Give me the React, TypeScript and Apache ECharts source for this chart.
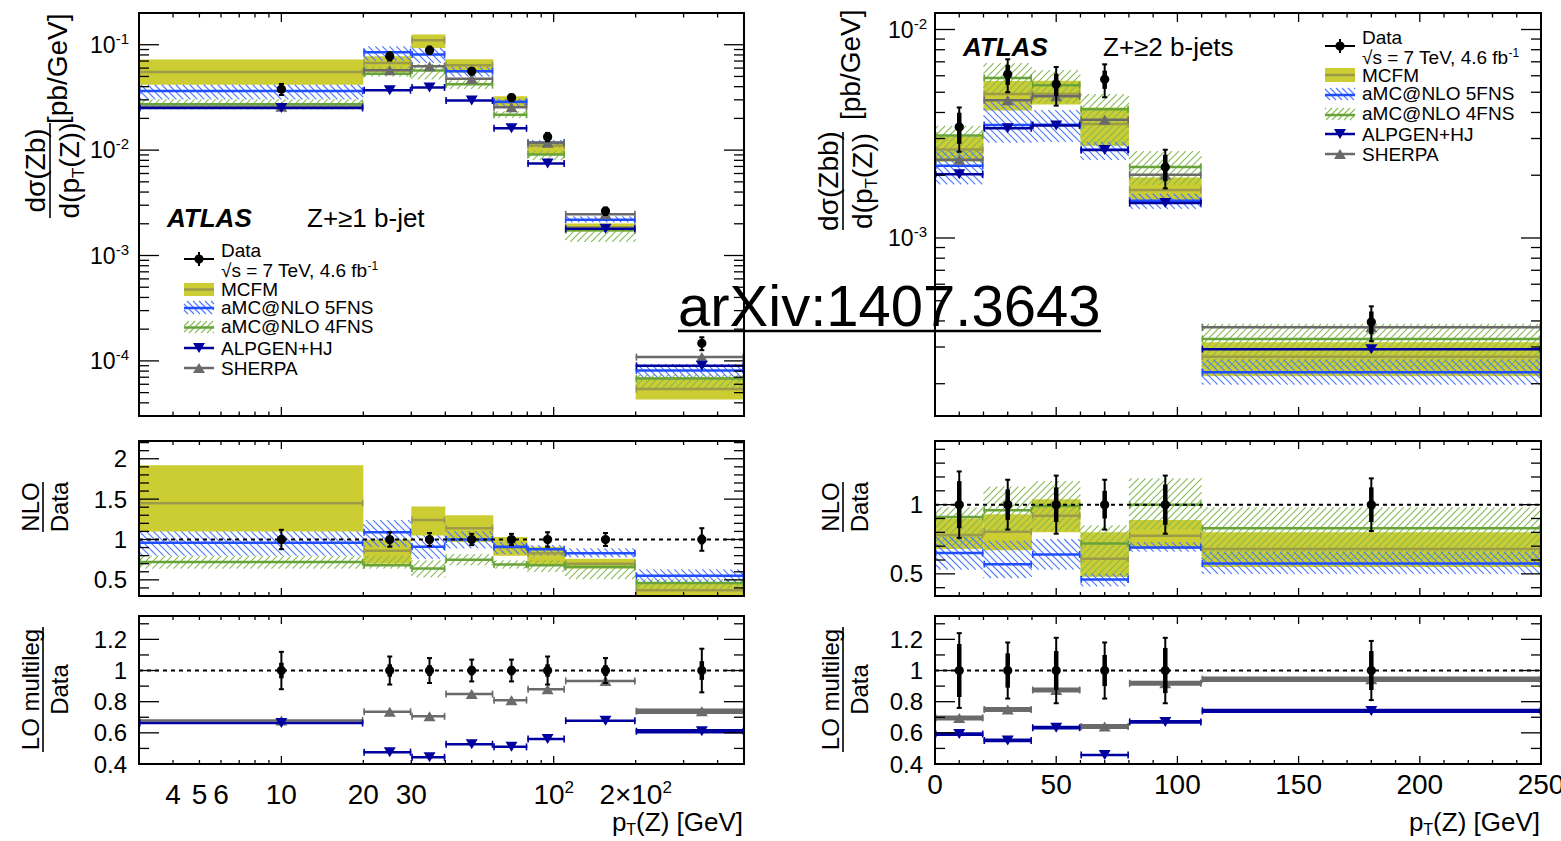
import React, { useEffect, useRef } from "react";
import * as echarts from "echarts";

const FONT = '"Liberation Sans", Arial, Helvetica, sans-serif';

// ---------- binning ----------
const LEFT_EDGES = [0, 20, 30, 40, 60, 80, 110, 200, 500];
const LEFT_CENTERS = [10, 25, 35, 50, 70, 95, 155, 350];
const RIGHT_EDGES = [0, 20, 40, 60, 80, 110, 250];
const RIGHT_CENTERS = [10, 30, 50, 70, 95, 180];

// ---------- axis ranges ----------
const LEFT_X_RANGE = [3, 500];
const RIGHT_X_RANGE = [0, 250];
const TL_Y_RANGE = [3e-5, 0.2];
const TR_Y_RANGE = [1.4e-4, 0.012];
const ML_Y_RANGE = [0.3, 2.22];
const MR_Y_RANGE = [0.34, 1.46];
const BOT_Y_RANGE = [0.4, 1.35];

// ---------- tick labels ----------
const LEFT_X_LABELS: [number, string][] = [[4, "4"], [5, "5"], [6, "6"], [10, "10"], [20, "20"], [30, "30"], [100, "10{s|2}"], [200, "2×10{s|2}"]];
const RIGHT_X_LABELS: [number, string][] = [[0, "0"], [50, "50"], [100, "100"], [150, "150"], [200, "200"], [250, "250"]];
const TL_Y_LABELS: [number, string][] = [[1e-4, "10{s|-4}"], [1e-3, "10{s|-3}"], [1e-2, "10{s|-2}"], [1e-1, "10{s|-1}"]];
const TR_Y_LABELS: [number, string][] = [[1e-3, "10{s|-3}"], [1e-2, "10{s|-2}"]];
const ML_Y_LABELS: [number, string][] = [[0.5, "0.5"], [1, "1"], [1.5, "1.5"], [2, "2"]];
const MR_Y_LABELS: [number, string][] = [[0.5, "0.5"], [1, "1"]];
const BOT_Y_LABELS: [number, string][] = [[0.4, "0.4"], [0.6, "0.6"], [0.8, "0.8"], [1, "1"], [1.2, "1.2"]];
const LEFT_X_MAJOR = [10, 100];
const LEFT_X_MINOR = [4, 5, 6, 7, 8, 9, 20, 30, 40, 50, 60, 70, 80, 90, 200, 300, 400];

// ---------- Z + >=1 b-jet : cross sections [pb/GeV] ----------
const B1_DATA = [0.0379, 0.0778, 0.0887, 0.0561, 0.0315, 0.01336, 0.00264, 0.000147];
const B1_ERR_TOT = [0.12, 0.09, 0.08, 0.07, 0.07, 0.09, 0.08, 0.14];
const B1_ERR_STAT = [0.05, 0.04, 0.035, 0.03, 0.03, 0.04, 0.035, 0.06];
const B1_MCFM = [0.055, 0.0669, 0.11, 0.064, 0.0284, 0.01109, 0.00185, 0.000054];
const B1_MCFM_LO = [0.0417, 0.0545, 0.0931, 0.0544, 0.0252, 0.00908, 0.00169, 0.000043];
const B1_MCFM_HI = [0.0724, 0.0778, 0.125, 0.0729, 0.0324, 0.01216, 0.00201, 0.00007];
const B1_5FNS = [0.0364, 0.0848, 0.0807, 0.0561, 0.0287, 0.01176, 0.00219, 0.000081];
const B1_5FNS_LO = [0.0303, 0.0708, 0.0674, 0.0499, 0.0258, 0.01069, 0.00206, 0.000069];
const B1_5FNS_HI = [0.0417, 0.0965, 0.0931, 0.0617, 0.0306, 0.01242, 0.00235, 0.000093];
const B1_4FNS = [0.0273, 0.0529, 0.0568, 0.0421, 0.0217, 0.00908, 0.00174, 0.000068];
const B1_4FNS_LO = [0.0243, 0.0498, 0.047, 0.0381, 0.0202, 0.00802, 0.00135, 0.000054];
const B1_4FNS_HI = [0.0303, 0.0622, 0.0656, 0.046, 0.0233, 0.00989, 0.00185, 0.000075];
const B1_ALPGEN = [0.0251, 0.037, 0.0393, 0.0296, 0.0161, 0.00748, 0.00179, 0.0000897];
const B1_SHERPA = [0.0258, 0.0572, 0.0626, 0.0476, 0.0255, 0.01176, 0.00246, 0.0001086];

// ratios to data
const R1_MCFM = [1.45, 0.86, 1.24, 1.14, 0.9, 0.83, 0.7, 0.37];
const R1_MCFM_LO = [1.1, 0.7, 1.05, 0.97, 0.8, 0.68, 0.64, 0.25];
const R1_MCFM_HI = [1.92, 1.0, 1.41, 1.3, 1.03, 0.91, 0.76, 0.45];
const R1_5FNS = [0.96, 1.09, 0.91, 1.0, 0.91, 0.88, 0.83, 0.55];
const R1_5FNS_LO = [0.8, 0.91, 0.76, 0.89, 0.82, 0.8, 0.78, 0.47];
const R1_5FNS_HI = [1.1, 1.24, 1.05, 1.1, 0.97, 0.93, 0.89, 0.63];
const R1_4FNS = [0.72, 0.68, 0.64, 0.75, 0.69, 0.68, 0.66, 0.46];
const R1_4FNS_LO = [0.64, 0.64, 0.53, 0.68, 0.64, 0.6, 0.51, 0.37];
const R1_4FNS_HI = [0.8, 0.8, 0.74, 0.82, 0.74, 0.74, 0.7, 0.51];
const R1_ALPGEN = [0.663, 0.476, 0.443, 0.527, 0.51, 0.56, 0.678, 0.61];
const R1_SHERPA = [0.68, 0.735, 0.706, 0.849, 0.81, 0.88, 0.933, 0.739];
const R1_ALPGEN_ERR = [0, 0, 0, 0, 0, 0, 0, 0.015];
const R1_SHERPA_ERR = [0, 0, 0, 0, 0, 0, 0, 0.018];

// ---------- Z + >=2 b-jets : cross sections [pb/GeV] ----------
const B2_DATA = [0.00341, 0.0061, 0.00546, 0.00577, 0.00219, 0.000395];
const B2_ERR_TOT = [0.24, 0.18, 0.21, 0.18, 0.21, 0.19];
const B2_ERR_STAT = [0.17, 0.11, 0.125, 0.1, 0.145, 0.125];
const B2_MCFM = [0.00266, 0.00491, 0.00491, 0.00352, 0.0017, 0.000269];
const B2_MCFM_LO = [0.00232, 0.00409, 0.00437, 0.00277, 0.00149, 0.000217];
const B2_MCFM_HI = [0.00307, 0.00567, 0.00568, 0.00423, 0.00195, 0.000316];
const B2_5FNS = [0.00222, 0.00348, 0.00349, 0.00265, 0.00151, 0.000227];
const B2_5FNS_LO = [0.00181, 0.00287, 0.00289, 0.00237, 0.00138, 0.000198];
const B2_5FNS_HI = [0.00263, 0.00451, 0.0041, 0.00289, 0.00163, 0.000261];
const B2_4FNS = [0.0031, 0.00586, 0.00541, 0.00415, 0.00219, 0.000328];
const B2_4FNS_LO = [0.00239, 0.00494, 0.00442, 0.00277, 0.0018, 0.000237];
const B2_4FNS_HI = [0.00345, 0.00689, 0.00639, 0.0049, 0.00261, 0.000387];
const B2_ALPGEN = [0.00202, 0.00336, 0.00346, 0.00264, 0.00147, 0.000293];
const B2_SHERPA = [0.00237, 0.00458, 0.00478, 0.00369, 0.00201, 0.000373];

const R2_MCFM = [0.78, 0.805, 0.92, 0.61, 0.776, 0.68];
const R2_MCFM_LO = [0.68, 0.67, 0.8, 0.48, 0.68, 0.55];
const R2_MCFM_HI = [0.9, 0.93, 1.04, 0.8, 0.89, 0.8];
const R2_5FNS = [0.65, 0.57, 0.64, 0.46, 0.69, 0.574];
const R2_5FNS_LO = [0.53, 0.47, 0.53, 0.41, 0.66, 0.5];
const R2_5FNS_HI = [0.77, 0.74, 0.75, 0.5, 0.73, 0.66];
const R2_4FNS = [0.91, 0.96, 0.99, 0.72, 1.0, 0.83];
const R2_4FNS_LO = [0.7, 0.81, 0.81, 0.48, 0.82, 0.6];
const R2_4FNS_HI = [0.98, 1.13, 1.17, 0.85, 1.19, 0.98];
const R2_ALPGEN = [0.592, 0.551, 0.633, 0.458, 0.67, 0.741];
const R2_SHERPA = [0.696, 0.75, 0.875, 0.64, 0.918, 0.944];
const R2_ALPGEN_ERR = [0.012, 0.012, 0.012, 0.008, 0.012, 0.014];
const R2_SHERPA_ERR = [0.016, 0.016, 0.016, 0.016, 0.016, 0.018];

// ---------- colours ----------
const C_MCFM_FILL = "#cccc33";
const C_MCFM_LINE = "#9b9b4a";
const C_5FNS_LINE = "#1f4dff";
const C_5FNS_HATCH = "#4a78ff";
const C_4FNS_LINE = "#68a33a";
const C_4FNS_HATCH = "#86bb55";
const C_ALPGEN = "#00009e";
const C_SHERPA = "#6a6a6a";

const GRIDS = [
  { left: 139, top: 13, width: 605, height: 403 },
  { left: 139, top: 441, width: 605, height: 155 },
  { left: 139, top: 616, width: 605, height: 148 },
  { left: 935, top: 13, width: 606, height: 403 },
  { left: 935, top: 441, width: 606, height: 155 },
  { left: 935, top: 616, width: 606, height: 148 },
];

// ---------- helpers ----------
function hatchLines(x0: number, y0: number, x1: number, y1: number, dir: string, color: string, sp = 7, lw = 1.1) {
  const out: any[] = [];
  if (dir === "/") {
    const start = Math.ceil((x0 + y0) / sp) * sp;
    for (let c = start; c <= x1 + y1; c += sp) {
      const xa = Math.max(x0, c - y1);
      const xb = Math.min(x1, c - y0);
      if (xb - xa > 0.4) out.push({ type: "line", shape: { x1: xa, y1: c - xa, x2: xb, y2: c - xb }, style: { stroke: color, lineWidth: lw } });
    }
  } else {
    const start = Math.ceil((y0 - x1) / sp) * sp;
    for (let c = start; c <= y1 - x0; c += sp) {
      const xa = Math.max(x0, y0 - c);
      const xb = Math.min(x1, y1 - c);
      if (xb - xa > 0.4) out.push({ type: "line", shape: { x1: xa, y1: xa + c, x2: xb, y2: xb + c }, style: { stroke: color, lineWidth: lw } });
    }
  }
  return out;
}

function logMinors(min: number, max: number) {
  const out: number[] = [];
  for (let e = Math.floor(Math.log10(min)); e <= Math.ceil(Math.log10(max)); e++) {
    for (let k = 2; k <= 9; k++) {
      const v = k * Math.pow(10, e);
      if (v > min * 1.0001 && v < max * 0.9999) out.push(v);
    }
  }
  return out;
}
function logMajors(min: number, max: number) {
  const out: number[] = [];
  for (let e = Math.floor(Math.log10(min)); e <= Math.ceil(Math.log10(max)); e++) {
    const v = Math.pow(10, e);
    if (v >= min && v <= max) out.push(v);
  }
  return out;
}
function linTicks(min: number, max: number, step: number, skip: number | null) {
  const out: number[] = [];
  const n0 = Math.ceil(min / step - 1e-6);
  const n1 = Math.floor(max / step + 1e-6);
  for (let n = n0; n <= n1; n++) {
    const v = +(n * step).toFixed(6);
    if (skip !== null && Math.abs(v / skip - Math.round(v / skip)) < 1e-6) continue;
    out.push(v);
  }
  return out;
}

const supRich = (size: number) => ({ s: { fontSize: size, fontFamily: FONT, fill: "#000", lineHeight: size, verticalAlign: "top" } });
const subRich = (size: number) => ({ sub: { fontSize: size, fontFamily: FONT, fill: "#000", lineHeight: size, verticalAlign: "bottom" } });

function bandSeries(gi: number, edges: number[], xMin: number, lo: number[], hi: number[], fill: string | null, hatchDir: string | null, hatchColor: string, z: number) {
  return {
    type: "custom", xAxisIndex: gi, yAxisIndex: gi, z, silent: true, clip: false,
    data: lo.map((l, i) => [Math.max(edges[i], xMin), edges[i + 1], l, hi[i]]),
    encode: { x: [0, 1], y: [2, 3] },
    renderItem: (params: any, api: any) => {
      const cs = params.coordSys;
      const p = api.coord([api.value(0), api.value(3)]);
      const q = api.coord([api.value(1), api.value(2)]);
      const x0 = Math.max(Math.min(p[0], q[0]), cs.x);
      const x1 = Math.min(Math.max(p[0], q[0]), cs.x + cs.width);
      const y0 = Math.max(Math.min(p[1], q[1]), cs.y);
      const y1 = Math.min(Math.max(p[1], q[1]), cs.y + cs.height);
      const children: any[] = [];
      if (x1 > x0 && y1 > y0) {
        if (fill) children.push({ type: "rect", shape: { x: x0, y: y0, width: x1 - x0, height: y1 - y0 }, style: { fill } });
        if (hatchDir) children.push(...hatchLines(x0, y0, x1, y1, hatchDir, hatchColor));
      }
      return { type: "group", children };
    },
  };
}

function lineSeries(gi: number, edges: number[], xMin: number, vals: number[], color: string, lw: number, z: number) {
  return {
    type: "custom", xAxisIndex: gi, yAxisIndex: gi, z, silent: true, clip: false,
    data: vals.map((v, i) => [Math.max(edges[i], xMin), edges[i + 1], v]),
    encode: { x: [0, 1], y: 2 },
    renderItem: (params: any, api: any) => {
      const cs = params.coordSys;
      const p = api.coord([api.value(0), api.value(2)]);
      const q = api.coord([api.value(1), api.value(2)]);
      const y = p[1];
      const children: any[] = [];
      if (y >= cs.y - 1 && y <= cs.y + cs.height + 1) {
        const x0 = Math.max(p[0], cs.x);
        const x1 = Math.min(q[0], cs.x + cs.width);
        children.push({ type: "line", shape: { x1: x0, y1: y, x2: x1, y2: y }, style: { stroke: color, lineWidth: lw } });
        children.push({ type: "line", shape: { x1: x0 + 0.8, y1: y - 3.5, x2: x0 + 0.8, y2: y + 3.5 }, style: { stroke: color, lineWidth: 1.6 } });
        children.push({ type: "line", shape: { x1: x1 - 0.8, y1: y - 3.5, x2: x1 - 0.8, y2: y + 3.5 }, style: { stroke: color, lineWidth: 1.6 } });
      }
      return { type: "group", children };
    },
  };
}

function triangle(x: number, y: number, down: boolean, color: string) {
  const h = 5;
  const w = 6;
  const pts = down ? [[x - w, y - h], [x + w, y - h], [x, y + h]] : [[x - w, y + h], [x + w, y + h], [x, y - h]];
  return { type: "polygon", shape: { points: pts }, style: { fill: color } };
}

function mcSeries(gi: number, edges: number[], xMin: number, centers: number[], vals: number[], errs: number[] | null, color: string, down: boolean, lw: number, z: number) {
  return {
    type: "custom", xAxisIndex: gi, yAxisIndex: gi, z, silent: true, clip: false,
    data: vals.map((v, i) => [Math.max(edges[i], xMin), edges[i + 1], centers[i], v, errs ? errs[i] : 0]),
    encode: { x: [0, 1, 2], y: 3 },
    renderItem: (params: any, api: any) => {
      const cs = params.coordSys;
      const v = api.value(3);
      const e = api.value(4);
      const xc = api.value(2);
      const pl = api.coord([api.value(0), v]);
      const ph = api.coord([api.value(1), v]);
      const pc = api.coord([xc, v]);
      const x0 = Math.max(pl[0], cs.x);
      const x1 = Math.min(ph[0], cs.x + cs.width);
      let yT = pc[1] - lw / 2;
      let yB = pc[1] + lw / 2;
      if (e > 0) {
        const a = api.coord([xc, v + e])[1];
        const b = api.coord([xc, v - e])[1];
        if (b - a > lw) { yT = a; yB = b; }
      }
      const children: any[] = [
        { type: "rect", shape: { x: x0, y: yT, width: x1 - x0, height: yB - yT }, style: { fill: color } },
        { type: "line", shape: { x1: x0 + 0.8, y1: pc[1] - 3.5, x2: x0 + 0.8, y2: pc[1] + 3.5 }, style: { stroke: color, lineWidth: 1.6 } },
        { type: "line", shape: { x1: x1 - 0.8, y1: pc[1] - 3.5, x2: x1 - 0.8, y2: pc[1] + 3.5 }, style: { stroke: color, lineWidth: 1.6 } },
        triangle(pc[0], pc[1], down, color),
      ];
      return { type: "group", children };
    },
  };
}

function dataSeries(gi: number, centers: number[], vals: number[], totLo: number[], totHi: number[], statLo: number[], statHi: number[], z: number) {
  return {
    type: "custom", xAxisIndex: gi, yAxisIndex: gi, z, silent: true, clip: false,
    data: vals.map((v, i) => [centers[i], v, totLo[i], totHi[i], statLo[i], statHi[i]]),
    encode: { x: 0, y: [1, 2, 3] },
    renderItem: (params: any, api: any) => {
      const xc = api.value(0);
      const c = api.coord([xc, api.value(1)]);
      const tl = api.coord([xc, api.value(2)])[1];
      const th = api.coord([xc, api.value(3)])[1];
      const sl = api.coord([xc, api.value(4)])[1];
      const sh = api.coord([xc, api.value(5)])[1];
      const k = { stroke: "#000", lineWidth: 2 };
      return {
        type: "group",
        children: [
          { type: "line", shape: { x1: c[0], y1: tl, x2: c[0], y2: th }, style: k },
          { type: "line", shape: { x1: c[0] - 2.5, y1: tl, x2: c[0] + 2.5, y2: tl }, style: k },
          { type: "line", shape: { x1: c[0] - 2.5, y1: th, x2: c[0] + 2.5, y2: th }, style: k },
          { type: "line", shape: { x1: c[0], y1: sl, x2: c[0], y2: sh }, style: { stroke: "#000", lineWidth: 4.5 } },
          { type: "circle", shape: { cx: c[0], cy: c[1], r: 4.6 }, style: { fill: "#000" } },
        ],
      };
    },
  };
}

function unitLineSeries(gi: number, xRef: number, z: number) {
  return {
    type: "custom", xAxisIndex: gi, yAxisIndex: gi, z, silent: true, clip: false,
    data: [[xRef, 1]],
    encode: { x: 0, y: 1 },
    renderItem: (params: any, api: any) => {
      const cs = params.coordSys;
      const y = api.coord([api.value(0), api.value(1)])[1];
      return { type: "line", shape: { x1: cs.x, y1: y, x2: cs.x + cs.width, y2: y }, style: { stroke: "#000", lineWidth: 2, lineDash: [4, 4] } };
    },
  };
}

function axesSeries(gi: number, cfg: any) {
  return {
    type: "custom", xAxisIndex: gi, yAxisIndex: gi, z: 20, silent: true, clip: false,
    data: [[cfg.xRange[0], cfg.yRange[0]]],
    encode: { x: 0, y: 1 },
    renderItem: (params: any, api: any) => {
      const cs = params.coordSys;
      const L = cs.x, R = cs.x + cs.width, T = cs.y, B = cs.y + cs.height;
      const X = (v: number) => api.coord([v, cfg.yRange[0]])[0];
      const Y = (v: number) => api.coord([cfg.xRange[0], v])[1];
      const st = { stroke: "#000", lineWidth: 1.3 };
      const ch: any[] = [];
      const addX = (v: number, len: number) => {
        const x = X(v);
        ch.push({ type: "line", shape: { x1: x, y1: B, x2: x, y2: B - len }, style: st });
        ch.push({ type: "line", shape: { x1: x, y1: T, x2: x, y2: T + len }, style: st });
      };
      const addY = (v: number, len: number) => {
        const y = Y(v);
        ch.push({ type: "line", shape: { x1: L, y1: y, x2: L + len, y2: y }, style: st });
        ch.push({ type: "line", shape: { x1: R, y1: y, x2: R - len, y2: y }, style: st });
      };
      cfg.xMajor.forEach((v: number) => addX(v, cfg.xTick[0]));
      cfg.xMinor.forEach((v: number) => addX(v, cfg.xTick[1]));
      cfg.yMajor.forEach((v: number) => addY(v, cfg.yTick[0]));
      cfg.yMinor.forEach((v: number) => addY(v, cfg.yTick[1]));
      ch.push({ type: "rect", shape: { x: L, y: T, width: R - L, height: B - T }, style: { fill: "none", stroke: "#000", lineWidth: 2 } });
      (cfg.yLabels || []).forEach(([v, t]: [number, string]) => {
        ch.push({
          type: "text", x: L - cfg.yGap, y: Y(v),
          style: { text: t, fontSize: cfg.yLabelSize, fontFamily: FONT, fill: "#000", align: "right", textAlign: "right", verticalAlign: "middle", textVerticalAlign: "middle", lineHeight: Math.round(cfg.yLabelSize * 1.2), rich: supRich(Math.round(cfg.yLabelSize * 0.65)) },
        });
      });
      (cfg.xLabels || []).forEach(([v, t]: [number, string]) => {
        ch.push({
          type: "text", x: X(v), y: B + cfg.xLabelOffset,
          style: { text: t, fontSize: cfg.xLabelSize, fontFamily: FONT, fill: "#000", align: "center", textAlign: "center", verticalAlign: "middle", textVerticalAlign: "middle", lineHeight: Math.round(cfg.xLabelSize * 1.12), rich: supRich(Math.round(cfg.xLabelSize * 0.62)) },
        });
      });
      return { type: "group", children: ch };
    },
  };
}

// ---------- graphic helpers ----------
function txt(x: number, y: number, text: string, size: number, o: any = {}) {
  return {
    type: "text", x, y, z: 50, silent: true,
    style: {
      text, fontSize: size, fontFamily: o.family || FONT, fill: "#000",
      fontWeight: o.weight || "normal", fontStyle: o.italic ? "italic" : "normal",
      align: o.align || "left", textAlign: o.align || "left",
      verticalAlign: o.va || "middle", textVerticalAlign: o.va || "middle",
      lineHeight: o.lh, rich: o.rich,
    },
  };
}

function fracTitle(x: number, y: number, len: number, num: string, den: string, size: number, extra?: string, ex?: number, ey?: number) {
  const children: any[] = [
    { type: "line", shape: { x1: 0, y1: 0, x2: len, y2: 0 }, style: { stroke: "#000", lineWidth: 1.6 } },
    txt(len / 2, -1, num, size, { align: "center", va: "bottom" }),
    txt(len / 2, 1, den, size, { align: "center", va: "top", lh: Math.round(size * 1.3), rich: subRich(Math.round(size * 0.62)) }),
  ];
  if (extra) children.push(txt(ex as number, ey as number, extra, size, { align: "left", va: "middle" }));
  return { type: "group", x, y, rotation: Math.PI / 2, z: 50, silent: true, children };
}

function legend(sx: number, tx: number, y: any) {
  const mx = sx + 15;
  const F = 19;
  const LH = 18;
  const el: any[] = [];
  const ln = (x1: number, y1: number, x2: number, y2: number, c: string, w: number) => ({ type: "line", z: 40, shape: { x1, y1, x2, y2 }, style: { stroke: c, lineWidth: w } });
  // data
  el.push(ln(sx, y.data, sx + 30, y.data, "#000", 2));
  el.push(ln(mx, y.data - 7, mx, y.data + 7, "#000", 2));
  el.push({ type: "circle", z: 40, shape: { cx: mx, cy: y.data, r: 4.6 }, style: { fill: "#000" } });
  el.push(txt(tx, y.dataT1, "Data", F, { lh: LH }));
  el.push(txt(tx, y.dataT2, "√s = 7 TeV, 4.6 fb{s|-1}", F, { lh: 20, rich: supRich(12) }));
  // MCFM
  el.push({ type: "rect", z: 40, shape: { x: sx, y: y.mcfm[0], width: 30, height: y.mcfm[1] - y.mcfm[0] }, style: { fill: C_MCFM_FILL } });
  el.push(ln(sx, (y.mcfm[0] + y.mcfm[1]) / 2, sx + 30, (y.mcfm[0] + y.mcfm[1]) / 2, C_MCFM_LINE, 2.5));
  el.push(txt(tx, y.mcfmT, "MCFM", F, { lh: LH }));
  // 5FNS
  el.push({ type: "group", z: 40, children: hatchLines(sx, y.f5[0], sx + 30, y.f5[1], "\\", C_5FNS_HATCH, 6) });
  el.push(ln(sx, y.f5L, sx + 30, y.f5L, C_5FNS_LINE, 2.5));
  el.push(txt(tx, y.f5T, "aMC@NLO 5FNS", F, { lh: LH }));
  // 4FNS
  el.push({ type: "group", z: 40, children: hatchLines(sx, y.f4[0], sx + 30, y.f4[1], "/", C_4FNS_HATCH, 6) });
  el.push(ln(sx, y.f4L, sx + 30, y.f4L, C_4FNS_LINE, 2.5));
  el.push(txt(tx, y.f4T, "aMC@NLO 4FNS", F, { lh: LH }));
  // ALPGEN
  el.push(ln(sx, y.alp, sx + 30, y.alp, C_ALPGEN, 2.5));
  el.push({ ...triangle(mx, y.alp, true, C_ALPGEN), z: 41 });
  el.push(txt(tx, y.alp, "ALPGEN+HJ", F, { lh: LH }));
  // SHERPA
  el.push(ln(sx, y.sh, sx + 30, y.sh, C_SHERPA, 2.5));
  el.push({ ...triangle(mx, y.sh, false, C_SHERPA), z: 41 });
  el.push(txt(tx, y.sh, "SHERPA", F, { lh: LH }));
  return el;
}

function buildOption() {
  const leftXMin = LEFT_X_RANGE[0];
  const rightXMin = RIGHT_X_RANGE[0];

  const panelCfg = [
    { xRange: LEFT_X_RANGE, yRange: TL_Y_RANGE, xMajor: LEFT_X_MAJOR, xMinor: LEFT_X_MINOR, yMajor: logMajors(TL_Y_RANGE[0], TL_Y_RANGE[1]), yMinor: logMinors(TL_Y_RANGE[0], TL_Y_RANGE[1]), xTick: [9, 4.5], yTick: [20, 10], yLabels: TL_Y_LABELS, yLabelSize: 23, yGap: 10 },
    { xRange: LEFT_X_RANGE, yRange: ML_Y_RANGE, xMajor: LEFT_X_MAJOR, xMinor: LEFT_X_MINOR, yMajor: linTicks(0.5, 2, 0.5, null), yMinor: linTicks(ML_Y_RANGE[0], ML_Y_RANGE[1], 0.1, 0.5), xTick: [8, 4], yTick: [20, 10], yLabels: ML_Y_LABELS, yLabelSize: 24, yGap: 12 },
    { xRange: LEFT_X_RANGE, yRange: BOT_Y_RANGE, xMajor: LEFT_X_MAJOR, xMinor: LEFT_X_MINOR, yMajor: linTicks(0.4, 1.2, 0.2, null), yMinor: linTicks(BOT_Y_RANGE[0], BOT_Y_RANGE[1], 0.1, 0.2), xTick: [8, 4], yTick: [20, 10], yLabels: BOT_Y_LABELS, yLabelSize: 24, yGap: 12, xLabels: LEFT_X_LABELS, xLabelSize: 28, xLabelOffset: 30 },
    { xRange: RIGHT_X_RANGE, yRange: TR_Y_RANGE, xMajor: linTicks(0, 250, 50, null), xMinor: linTicks(0, 250, 10, 50), yMajor: logMajors(TR_Y_RANGE[0], TR_Y_RANGE[1]), yMinor: logMinors(TR_Y_RANGE[0], TR_Y_RANGE[1]), xTick: [9, 4.5], yTick: [20, 10], yLabels: TR_Y_LABELS, yLabelSize: 23, yGap: 8 },
    { xRange: RIGHT_X_RANGE, yRange: MR_Y_RANGE, xMajor: linTicks(0, 250, 50, null), xMinor: linTicks(0, 250, 10, 50), yMajor: [0.5, 1], yMinor: linTicks(MR_Y_RANGE[0], MR_Y_RANGE[1], 0.1, 0.5), xTick: [8, 4], yTick: [20, 10], yLabels: MR_Y_LABELS, yLabelSize: 24, yGap: 12 },
    { xRange: RIGHT_X_RANGE, yRange: BOT_Y_RANGE, xMajor: linTicks(0, 250, 50, null), xMinor: linTicks(0, 250, 10, 50), yMajor: linTicks(0.4, 1.2, 0.2, null), yMinor: linTicks(BOT_Y_RANGE[0], BOT_Y_RANGE[1], 0.1, 0.2), xTick: [8, 4], yTick: [20, 10], yLabels: BOT_Y_LABELS, yLabelSize: 24, yGap: 12, xLabels: RIGHT_X_LABELS, xLabelSize: 28, xLabelOffset: 20 },
  ];

  const xAxis = panelCfg.map((c, i) =>
    i < 3
      ? { type: "log", logBase: 10, gridIndex: i, min: c.xRange[0], max: c.xRange[1], show: false }
      : { type: "value", gridIndex: i, min: c.xRange[0], max: c.xRange[1], show: false }
  );
  const yAxis = panelCfg.map((c, i) =>
    i === 0 || i === 3
      ? { type: "log", logBase: 10, gridIndex: i, min: c.yRange[0], max: c.yRange[1], show: false }
      : { type: "value", gridIndex: i, min: c.yRange[0], max: c.yRange[1], show: false }
  );

  const ones1 = B1_DATA.map(() => 1);
  const ones2 = B2_DATA.map(() => 1);

  const series: any[] = [
    // ----- top left -----
    bandSeries(0, LEFT_EDGES, leftXMin, B1_MCFM_LO, B1_MCFM_HI, C_MCFM_FILL, null, "", 2),
    bandSeries(0, LEFT_EDGES, leftXMin, B1_4FNS_LO, B1_4FNS_HI, null, "/", C_4FNS_HATCH, 2),
    bandSeries(0, LEFT_EDGES, leftXMin, B1_5FNS_LO, B1_5FNS_HI, null, "\\", C_5FNS_HATCH, 2),
    lineSeries(0, LEFT_EDGES, leftXMin, B1_MCFM, C_MCFM_LINE, 2.5, 3),
    lineSeries(0, LEFT_EDGES, leftXMin, B1_4FNS, C_4FNS_LINE, 2.5, 3),
    lineSeries(0, LEFT_EDGES, leftXMin, B1_5FNS, C_5FNS_LINE, 2.5, 3),
    mcSeries(0, LEFT_EDGES, leftXMin, LEFT_CENTERS, B1_SHERPA, null, C_SHERPA, false, 2.5, 4),
    mcSeries(0, LEFT_EDGES, leftXMin, LEFT_CENTERS, B1_ALPGEN, null, C_ALPGEN, true, 2.5, 4),
    dataSeries(0, LEFT_CENTERS, B1_DATA,
      B1_DATA.map((v, i) => v * (1 - B1_ERR_TOT[i])), B1_DATA.map((v, i) => v * (1 + B1_ERR_TOT[i])),
      B1_DATA.map((v, i) => v * (1 - B1_ERR_STAT[i])), B1_DATA.map((v, i) => v * (1 + B1_ERR_STAT[i])), 5),
    // ----- middle left -----
    bandSeries(1, LEFT_EDGES, leftXMin, R1_MCFM_LO, R1_MCFM_HI, C_MCFM_FILL, null, "", 2),
    bandSeries(1, LEFT_EDGES, leftXMin, R1_4FNS_LO, R1_4FNS_HI, null, "/", C_4FNS_HATCH, 2),
    bandSeries(1, LEFT_EDGES, leftXMin, R1_5FNS_LO, R1_5FNS_HI, null, "\\", C_5FNS_HATCH, 2),
    lineSeries(1, LEFT_EDGES, leftXMin, R1_MCFM, C_MCFM_LINE, 2.5, 3),
    lineSeries(1, LEFT_EDGES, leftXMin, R1_4FNS, C_4FNS_LINE, 2.5, 3),
    lineSeries(1, LEFT_EDGES, leftXMin, R1_5FNS, C_5FNS_LINE, 2.5, 3),
    unitLineSeries(1, leftXMin, 4),
    dataSeries(1, LEFT_CENTERS, ones1, B1_ERR_TOT.map((e) => 1 - e), B1_ERR_TOT.map((e) => 1 + e), B1_ERR_STAT.map((e) => 1 - e), B1_ERR_STAT.map((e) => 1 + e), 5),
    // ----- bottom left -----
    mcSeries(2, LEFT_EDGES, leftXMin, LEFT_CENTERS, R1_SHERPA, R1_SHERPA_ERR, C_SHERPA, false, 2.5, 3),
    mcSeries(2, LEFT_EDGES, leftXMin, LEFT_CENTERS, R1_ALPGEN, R1_ALPGEN_ERR, C_ALPGEN, true, 2.5, 3),
    unitLineSeries(2, leftXMin, 4),
    dataSeries(2, LEFT_CENTERS, ones1, B1_ERR_TOT.map((e) => 1 - e), B1_ERR_TOT.map((e) => 1 + e), B1_ERR_STAT.map((e) => 1 - e), B1_ERR_STAT.map((e) => 1 + e), 5),
    // ----- top right -----
    bandSeries(3, RIGHT_EDGES, rightXMin, B2_MCFM_LO, B2_MCFM_HI, C_MCFM_FILL, null, "", 2),
    bandSeries(3, RIGHT_EDGES, rightXMin, B2_4FNS_LO, B2_4FNS_HI, null, "/", C_4FNS_HATCH, 2),
    bandSeries(3, RIGHT_EDGES, rightXMin, B2_5FNS_LO, B2_5FNS_HI, null, "\\", C_5FNS_HATCH, 2),
    lineSeries(3, RIGHT_EDGES, rightXMin, B2_MCFM, C_MCFM_LINE, 2.5, 3),
    lineSeries(3, RIGHT_EDGES, rightXMin, B2_4FNS, C_4FNS_LINE, 2.5, 3),
    lineSeries(3, RIGHT_EDGES, rightXMin, B2_5FNS, C_5FNS_LINE, 2.5, 3),
    mcSeries(3, RIGHT_EDGES, rightXMin, RIGHT_CENTERS, B2_SHERPA, null, C_SHERPA, false, 2.5, 4),
    mcSeries(3, RIGHT_EDGES, rightXMin, RIGHT_CENTERS, B2_ALPGEN, null, C_ALPGEN, true, 2.5, 4),
    dataSeries(3, RIGHT_CENTERS, B2_DATA,
      B2_DATA.map((v, i) => v * (1 - B2_ERR_TOT[i])), B2_DATA.map((v, i) => v * (1 + B2_ERR_TOT[i])),
      B2_DATA.map((v, i) => v * (1 - B2_ERR_STAT[i])), B2_DATA.map((v, i) => v * (1 + B2_ERR_STAT[i])), 5),
    // ----- middle right -----
    bandSeries(4, RIGHT_EDGES, rightXMin, R2_MCFM_LO, R2_MCFM_HI, C_MCFM_FILL, null, "", 2),
    bandSeries(4, RIGHT_EDGES, rightXMin, R2_4FNS_LO, R2_4FNS_HI, null, "/", C_4FNS_HATCH, 2),
    bandSeries(4, RIGHT_EDGES, rightXMin, R2_5FNS_LO, R2_5FNS_HI, null, "\\", C_5FNS_HATCH, 2),
    lineSeries(4, RIGHT_EDGES, rightXMin, R2_MCFM, C_MCFM_LINE, 2.5, 3),
    lineSeries(4, RIGHT_EDGES, rightXMin, R2_4FNS, C_4FNS_LINE, 2.5, 3),
    lineSeries(4, RIGHT_EDGES, rightXMin, R2_5FNS, C_5FNS_LINE, 2.5, 3),
    unitLineSeries(4, rightXMin, 4),
    dataSeries(4, RIGHT_CENTERS, ones2, B2_ERR_TOT.map((e) => 1 - e), B2_ERR_TOT.map((e) => 1 + e), B2_ERR_STAT.map((e) => 1 - e), B2_ERR_STAT.map((e) => 1 + e), 5),
    // ----- bottom right -----
    mcSeries(5, RIGHT_EDGES, rightXMin, RIGHT_CENTERS, R2_SHERPA, R2_SHERPA_ERR, C_SHERPA, false, 2.5, 3),
    mcSeries(5, RIGHT_EDGES, rightXMin, RIGHT_CENTERS, R2_ALPGEN, R2_ALPGEN_ERR, C_ALPGEN, true, 2.5, 3),
    unitLineSeries(5, rightXMin, 4),
    dataSeries(5, RIGHT_CENTERS, ones2, B2_ERR_TOT.map((e) => 1 - e), B2_ERR_TOT.map((e) => 1 + e), B2_ERR_STAT.map((e) => 1 - e), B2_ERR_STAT.map((e) => 1 + e), 5),
  ];
  panelCfg.forEach((c, i) => series.push(axesSeries(i, c)));

  const graphics: any[] = [
    // y-axis titles
    fracTitle(50, 218, 95, "dσ(Zb)", "d(p{sub|T}(Z))", 28, "[pb/GeV]", 94, 7),
    fracTitle(843, 230, 98, "dσ(Zbb)", "d(p{sub|T}(Z))", 28, "[pb/GeV]", 110, 7),
    fracTitle(43, 532, 50, "NLO", "Data", 24),
    fracTitle(843, 532, 50, "NLO", "Data", 24),
    fracTitle(43, 752, 125, "LO multileg", "Data", 24),
    fracTitle(843, 752, 125, "LO multileg", "Data", 24),
    // x-axis titles
    txt(743, 822, "p{sub|T}(Z) [GeV]", 26, { align: "right", lh: 30, rich: subRich(16) }),
    txt(1540, 822, "p{sub|T}(Z) [GeV]", 26, { align: "right", lh: 30, rich: subRich(16) }),
    // ATLAS labels
    txt(167, 218, "ATLAS", 26, { weight: "bold", italic: true }),
    txt(307, 218, "Z+≥1 b-jet", 26),
    txt(963, 47, "ATLAS", 26, { weight: "bold", italic: true }),
    txt(1103, 47, "Z+≥2 b-jets", 26),
    ...legend(184, 221, { data: 259, dataT1: 250, dataT2: 270, mcfm: [283, 296], mcfmT: 289, f5: [301, 314], f5L: 308, f5T: 307.5, f4: [321, 333], f4L: 327.5, f4T: 326.5, alp: 348, sh: 368 }),
    ...legend(1325, 1362, { data: 46, dataT1: 37, dataT2: 57, mcfm: [68, 82], mcfmT: 75, f5: [88, 100], f5L: 95, f5T: 93, f4: [108, 120], f4L: 115, f4T: 113, alp: 134, sh: 154 }),
    // watermark
    { ...txt(678, 305, "arXiv:1407.3643", 58, { weight: 300, family: '"Liberation Sans", Arial, sans-serif' }), z: 100 },
    { type: "line", z: 100, silent: true, shape: { x1: 678, y1: 331, x2: 1101, y2: 331 }, style: { stroke: "#000", lineWidth: 2.5 } },
  ];

  return {
    animation: false,
    backgroundColor: "#fff",
    grid: GRIDS.map((g) => ({ ...g, show: false })),
    xAxis,
    yAxis,
    series,
    graphic: { elements: graphics },
  };
}

export default function App() {
  const ref = useRef<HTMLDivElement>(null);
  useEffect(() => {
    if (!ref.current) return;
    const chart = echarts.init(ref.current, null, { renderer: "svg" });
    chart.setOption(buildOption() as any);
    return () => chart.dispose();
  }, []);
  return <div ref={ref} style={{ position: "absolute", left: 0, top: 0, width: 1561, height: 841, background: "#fff" }} />;
}
